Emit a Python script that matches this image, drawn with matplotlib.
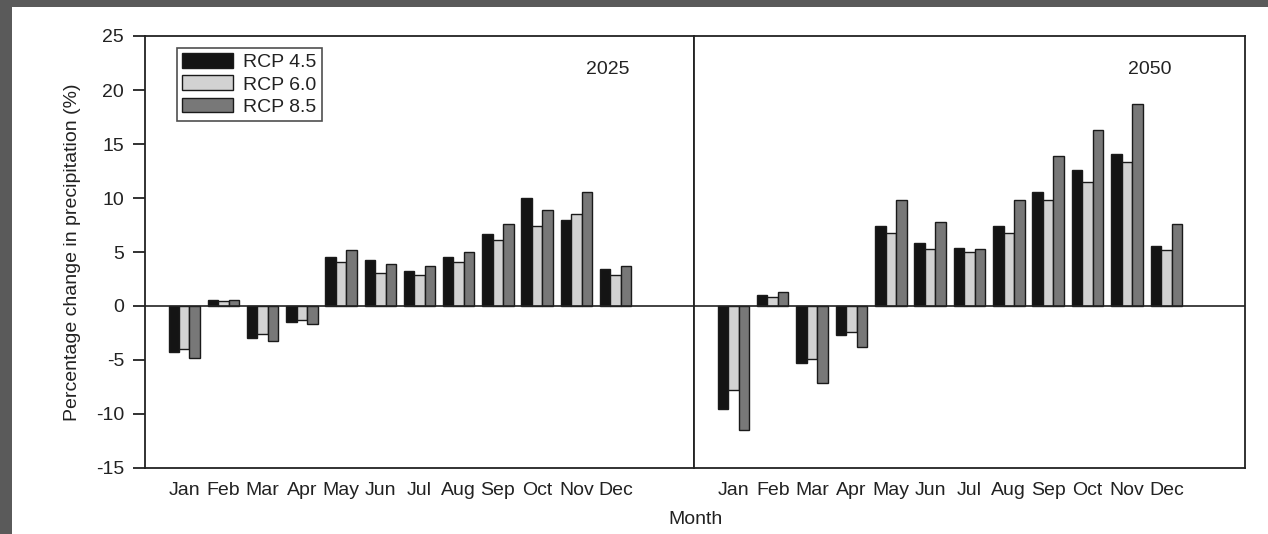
import matplotlib
matplotlib.use('Agg')
import matplotlib.pyplot as plt
import numpy as np

plt.rcParams['font.family'] = ['Liberation Sans', 'DejaVu Sans']

months = ['Jan', 'Feb', 'Mar', 'Apr', 'May', 'Jun',
          'Jul', 'Aug', 'Sep', 'Oct', 'Nov', 'Dec']
scenarios = ['RCP 4.5', 'RCP 6.0', 'RCP 8.5']

# percentage change in precipitation, 2025
rcp45_2025 = [-4.3, 0.6, -3.0, -1.5, 4.5, 4.3, 3.2, 4.5, 6.7, 10.0, 8.0, 3.4]
rcp60_2025 = [-4.0, 0.5, -2.6, -1.3, 4.1, 3.1, 2.9, 4.1, 6.1, 7.4, 8.5, 2.9]
rcp85_2025 = [-4.8, 0.6, -3.2, -1.7, 5.2, 3.9, 3.7, 5.0, 7.6, 8.9, 10.6, 3.7]

# percentage change in precipitation, 2050
rcp45_2050 = [-9.5, 1.0, -5.3, -2.7, 7.4, 5.8, 5.4, 7.4, 10.6, 12.6, 14.1, 5.6]
rcp60_2050 = [-7.8, 0.8, -4.9, -2.4, 6.8, 5.3, 5.0, 6.8, 9.8, 11.5, 13.3, 5.2]
rcp85_2050 = [-11.5, 1.3, -7.1, -3.8, 9.8, 7.8, 5.3, 9.8, 13.9, 16.3, 18.7, 7.6]

colors = ['#141414', '#d2d2d2', '#787878']
ink = '#222222'
fs = 14

W, H = 1268, 534
fig = plt.figure(figsize=(W / 100, H / 100), dpi=100, facecolor='#5a5a5a')
# white page on top of the grey frame
bg = fig.add_axes([12 / W, 0, 1 - 12 / W, 1 - 7 / H])
bg.set_facecolor('white')
bg.set_xticks([])
bg.set_yticks([])
for s in bg.spines.values():
    s.set_visible(False)

ax1 = fig.add_axes([145 / W, 66 / H, 549 / W, 432 / H])
ax2 = fig.add_axes([694 / W, 66 / H, 551 / W, 432 / H])

x = np.arange(1, 13)
w = 0.267
panels = [(ax1, [rcp45_2025, rcp60_2025, rcp85_2025], '2025', 0.883),
          (ax2, [rcp45_2050, rcp60_2050, rcp85_2050], '2050', 0.867)]

for ax, series, year, xt in panels:
    for i, vals in enumerate(series):
        ax.bar(x + (i - 1) * w, vals, width=w, color=colors[i],
               edgecolor='#1a1a1a', linewidth=1.0, label=scenarios[i], zorder=2)
    ax.axhline(0, color=ink, lw=1.2, zorder=3)
    ax.set_xlim(0, 14)
    ax.set_ylim(-15, 25)
    ax.set_xticks(x)
    ax.set_xticklabels(months, fontsize=fs, color=ink)
    ax.tick_params(axis='x', length=0, pad=10)
    for s in ax.spines.values():
        s.set_linewidth(1.3)
        s.set_color(ink)
    ax.text(xt, 0.922, year, transform=ax.transAxes, ha='right', va='center',
            fontsize=fs, color=ink)

ax1.set_yticks(np.arange(-15, 26, 5))
ax1.set_yticklabels([str(v) for v in range(-15, 26, 5)], fontsize=fs, color=ink)
ax1.tick_params(axis='y', direction='out', length=9, width=1.3, color=ink, pad=6)
ax1.set_ylabel('Percentage change in precipitation (%)', fontsize=fs, color=ink)
ax1.yaxis.set_label_coords(-0.117, 0.5)

ax2.set_yticks([])

leg = ax1.legend(loc='upper left', bbox_to_anchor=(0.0577, 0.973), borderaxespad=0,
                 fontsize=fs, frameon=True, fancybox=False, edgecolor=ink,
                 handlelength=2.6, handleheight=0.78, handletextpad=0.55,
                 labelspacing=0.22, borderpad=0.28)
leg.get_frame().set_linewidth(1.2)
for t in leg.get_texts():
    t.set_color(ink)

fig.text(695 / W, 1 - 519 / H, 'Month', ha='center', va='center',
         fontsize=fs, color=ink)

fig.savefig('out.png', dpi=100, facecolor=fig.get_facecolor())
